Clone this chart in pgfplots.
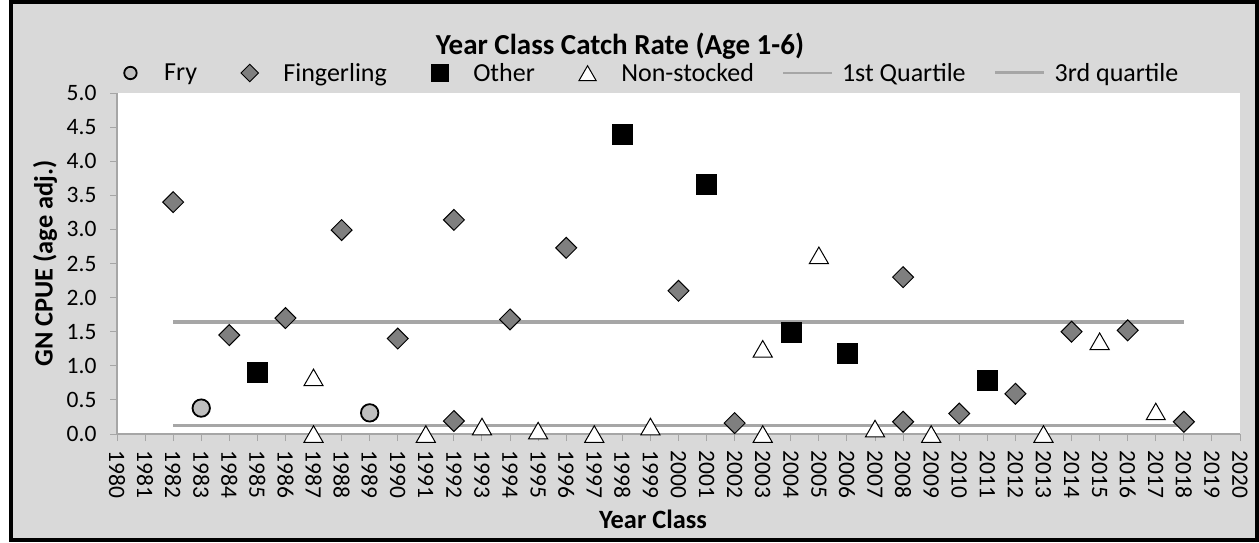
\documentclass[border=0pt]{standalone}
\usepackage{pgfplots}
\pgfplotsset{compat=1.18}
\usepackage{fontspec}
\setmainfont{Carlito}
\definecolor{bg}{HTML}{D9D9D9}
\definecolor{axgray}{HTML}{A6A6A6}
\definecolor{qgray}{HTML}{A6A6A6}
\definecolor{fryfill}{HTML}{BFBFBF}
\definecolor{fingfill}{HTML}{7F7F7F}
\pgfplotsset{
  legmark/.style={legend image code/.code={\path (0pt,0pt) (49pt,0pt);\draw[##1,mark size=#1] plot coordinates {(24.5pt,0pt)};}},
}
\begin{document}
\begin{tikzpicture}[x=1pt,y=1pt]
\path[use as bounding box] (0,0) rectangle (1259,542);
\draw[fill=bg, draw=black, line width=4pt] (10.5,2.5) rectangle (1257,539.5);
\begin{axis}[
  at={(117pt,108pt)}, anchor=south west,
  scale only axis, width=1123pt, height=341pt,
  xmin=1980, xmax=2020, ymin=0, ymax=5,
  xtick={1980,1981,...,2020}, ytick={0,0.5,...,5},
  axis lines*=left,
  axis line style={draw=axgray, line width=1.3pt},
  tick style={draw=axgray, line width=1pt},
  tick align=outside, major tick length=7pt,
  axis background/.style={fill=white},
  clip=false,
  /pgf/number format/assume math mode=true,
  ticklabel style={font=\fontsize{23.5}{28}\selectfont},
  xticklabel style={rotate=-90, anchor=west, /pgf/number format/1000 sep={}},
  xticklabel shift=6pt,
  yticklabel shift=10pt,
  yticklabel style={/pgf/number format/.cd, fixed, fixed zerofill, precision=1},
  title={Year Class Catch Rate (Age 1-6)},
  every axis title/.style={font=\bfseries\fontsize{29}{34}\selectfont, at={(axis description cs:0.4479,1.1129)}, anchor=base},
  xlabel={Year Class},
  every axis x label/.style={font=\bfseries\fontsize{26.4}{30}\selectfont, at={(axis description cs:0.4773,-0.2777)}, anchor=base},
  ylabel={GN CPUE (age adj.)},
  every axis y label/.style={font=\bfseries\fontsize{26.4}{30}\selectfont, at={(axis description cs:-0.0641,0.5)}, rotate=90, anchor=center},
  legend columns=6,
  legend style={at={(-0.0102,1.0587)}, anchor=west, draw=none, fill=none, inner sep=0pt,
    font=\fontsize{26}{30}\selectfont,
    /tikz/every odd column/.append style={column sep=7pt},
    /tikz/every even column/.append style={column sep=26pt}},
  legend image code/.code={\draw[#1] (0pt,0pt) -- (49pt,0pt);},
  legend entries={Fry, Fingerling, Other, Non-stocked, 1st Quartile, 3rd quartile},
]
% quartile lines (drawn beneath markers)
\addplot[qgray, line width=3pt, forget plot] coordinates {(1982,0.13) (2018,0.13)};
\addplot[qgray, line width=3.5pt, forget plot] coordinates {(1982,1.64) (2018,1.64)};
% Fry
\addplot[only marks, mark=*, mark size=8.7pt, mark options={fill=fryfill, draw=black, line width=1.8pt}, legmark=6.2pt]
  coordinates {(1983,0.38) (1989,0.31)};
% Fingerling
\addplot[only marks, mark=square*, mark size=7.4pt, mark options={rotate=45, fill=fingfill, draw=black, line width=1pt}, legmark=6.2pt]
  coordinates {(1982,3.40) (1984,1.45) (1986,1.70) (1988,2.99) (1990,1.40) (1992,3.14) (1992,0.19)
  (1994,1.68) (1996,2.73) (2000,2.10) (2002,0.16) (2008,2.30) (2008,0.18) (2010,0.30) (2012,0.59)
  (2014,1.50) (2016,1.52) (2018,0.18)};
% Other
\addplot[only marks, mark=square*, mark size=10pt, mark options={fill=black, draw=black, line width=0.5pt}, legmark=8.5pt]
  coordinates {(1985,0.91) (1998,4.39) (2001,3.66) (2004,1.49) (2006,1.19) (2011,0.79)};
% Non-stocked
\addplot[only marks, mark=triangle*, mark size=11pt, mark options={fill=white, draw=black, line width=1pt, yshift=-2.75pt}, legmark=10pt]
  coordinates {(1987,0.83) (1987,0.00) (1991,0.00) (1993,0.11) (1995,0.05) (1997,0.00) (1999,0.11)
  (2003,0.00) (2003,1.25) (2005,2.62) (2007,0.08) (2009,0.00) (2013,0.00) (2015,1.36) (2017,0.33)};
\addlegendimage{qgray, line width=2pt}
\addlegendimage{qgray, line width=3pt}
\end{axis}
\end{tikzpicture}
\end{document}
